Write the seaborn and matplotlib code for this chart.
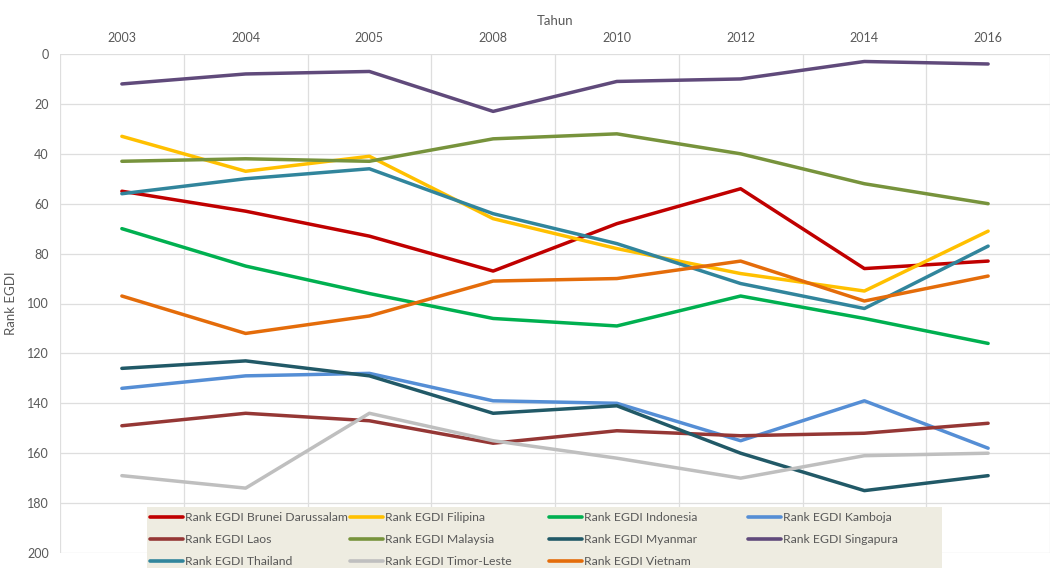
import pandas as pd
import seaborn as sns
import matplotlib.pyplot as plt
from matplotlib.patches import Rectangle

tahun = ['2003', '2004', '2005', '2008', '2010', '2012', '2014', '2016']

negara = ['Brunei Darussalam', 'Filipina', 'Indonesia', 'Kamboja', 'Laos', 'Malaysia',
          'Myanmar', 'Singapura', 'Thailand', 'Timor-Leste', 'Vietnam']

brunei = [55, 63, 73, 87, 68, 54, 86, 83]
filipina = [33, 47, 41, 66, 78, 88, 95, 71]
indonesia = [70, 85, 96, 106, 109, 97, 106, 116]
kamboja = [134, 129, 128, 139, 140, 155, 139, 158]
laos = [149, 144, 147, 156, 151, 153, 152, 148]
malaysia = [43, 42, 43, 34, 32, 40, 52, 60]
myanmar = [126, 123, 129, 144, 141, 160, 175, 169]
singapura = [12, 8, 7, 23, 11, 10, 3, 4]
thailand = [56, 50, 46, 64, 76, 92, 102, 77]
timor_leste = [169, 174, 144, 155, 162, 170, 161, 160]
vietnam = [97, 112, 105, 91, 90, 83, 99, 89]

nilai = [brunei, filipina, indonesia, kamboja, laos, malaysia,
         myanmar, singapura, thailand, timor_leste, vietnam]

warna = ['#C00000', '#FFC000', '#00B050', '#558ED5', '#953735', '#77933C',
         '#215967', '#604A7B', '#31859C', '#BFBFBF', '#E46C0A']

label = ['Rank EGDI ' + n for n in negara]

rows = []
for lab, vals in zip(label, nilai):
    for i, v in enumerate(vals):
        rows.append({'pos': i, 'rank': v, 'seri': lab})
df = pd.DataFrame(rows)

sns.set_style('white')
plt.rcParams['font.family'] = ['Lato', 'DejaVu Sans']
abu = '#595959'

fig = plt.figure(figsize=(10.51, 5.68), dpi=100)
ax = fig.add_axes([60 / 1051, 15 / 568, 990 / 1051, 499 / 568])

sns.lineplot(data=df, x='pos', y='rank', hue='seri', hue_order=label,
             palette=dict(zip(label, warna)), linewidth=2.5, sort=False,
             legend=True, ax=ax)

ax.set_xlim(-0.5, len(tahun) - 0.5)
ax.set_ylim(200, 0)
ax.set_yticks(range(0, 201, 20))
ax.set_xticks(range(len(tahun)))
ax.set_xticklabels(tahun)
ax.set_xticks([i + 0.5 for i in range(-1, len(tahun))], minor=True)
ax.xaxis.tick_top()
ax.xaxis.set_label_position('top')
ax.set_xlabel('Tahun', color=abu, fontsize=9.5, labelpad=5)
ax.set_ylabel('Rank EGDI', color=abu, fontsize=9.5, labelpad=7)
ax.tick_params(axis='both', which='both', length=0, colors=abu, labelsize=9)
ax.tick_params(axis='x', pad=7)
ax.tick_params(axis='y', pad=8)
ax.grid(False)
ax.grid(axis='y', which='major', color='#DEDEDE', linewidth=0.9)
ax.grid(axis='x', which='minor', color='#DEDEDE', linewidth=0.9)
for s in ax.spines.values():
    s.set_visible(False)

handles, labels = ax.get_legend_handles_labels()
ax.get_legend().remove()

# kotak legenda
kotak = Rectangle((147 / 1051, -0.05), 795 / 1051, 0.05 + (568 - 507) / 568,
                  transform=fig.transFigure, facecolor='#EEECE1', edgecolor='none',
                  zorder=4, clip_on=False)
fig.patches.append(kotak)

kolom_x = [148, 348, 547, 746]
for c in range(4):
    idx = [c + 4 * r for r in range(3) if c + 4 * r < len(handles)]
    leg = fig.legend([handles[i] for i in idx], [labels[i] for i in idx],
                     loc='upper left', bbox_to_anchor=(kolom_x[c] / 1051, 1 - 510 / 568),
                     frameon=False, fontsize=8.8, labelcolor=abu, handlelength=2.7,
                     handletextpad=0.15, labelspacing=0.9, borderpad=0.2,
                     borderaxespad=0)
    for h in leg.legend_handles:
        h.set_linewidth(2.6)
    leg.set_zorder(5)

fig.savefig('out.png', dpi=100)
